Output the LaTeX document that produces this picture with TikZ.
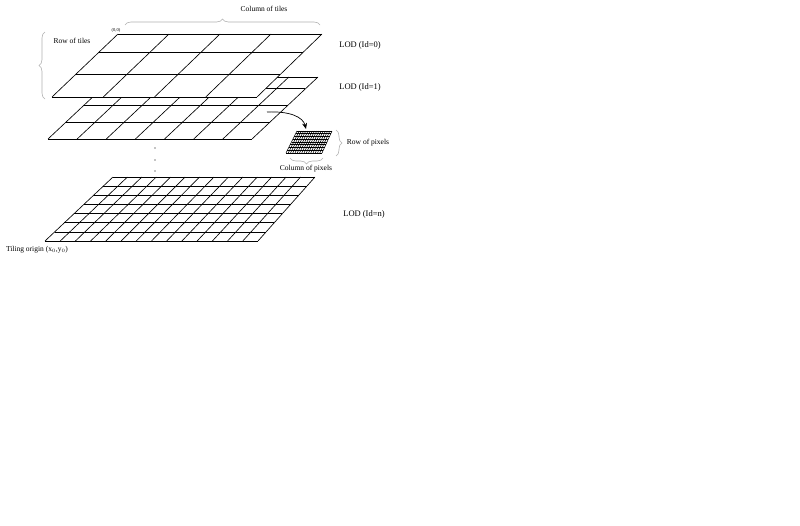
\documentclass[tikz,border=0pt]{standalone}
\usepackage{fontspec}
\setmainfont{Liberation Serif}
\usetikzlibrary{calc,arrows.meta,decorations.pathreplacing,positioning}
\tikzset{
  malla/.style={draw=black,line width=0.65pt},
  fina/.style={draw=black,line width=0.55pt},
  llave/.style={decorate,decoration={brace,amplitude=6pt},draw=gray!60,line width=0.6pt},
  etiq/.style={font=\fontsize{7.5}{8}\selectfont,inner sep=0pt},
  lod/.style={font=\fontsize{8.5}{9}\selectfont,inner sep=0pt},
  punto/.style={circle,fill=black,inner sep=0.45pt}
}
% capa: esquinas (sup-izq, sup-der, inf-der, inf-izq), columnas, filas, estilo
\newcommand{\capa}[7]{%
  \fill[white] (#1)--(#2)--(#3)--(#4)--cycle;
  \foreach \c in {0,...,#5}{\draw[#7] ($(#1)!{\c/#5}!(#2)$) -- ($(#4)!{\c/#5}!(#3)$);}
  \foreach \f in {#6}{\draw[#7] ($(#1)!\f!(#4)$) -- ($(#2)!\f!(#3)$);}
}

\begin{document}
\begin{tikzpicture}[x=1pt,y=-1pt]
\useasboundingbox[fill=white] (0,0) rectangle (800,525);

\coordinate (a0) at (118,34); \coordinate (b0) at (322,34);
\coordinate (c0) at (257,97); \coordinate (d0) at (52,97);
\coordinate (a1) at (114,77); \coordinate (b1) at (318,77);
\coordinate (c1) at (252,139); \coordinate (d1) at (48,139);
\coordinate (an) at (113,177); \coordinate (bn) at (315,177);
\coordinate (cn) at (258,241); \coordinate (dn) at (45,241);
\coordinate (ap) at (297,131); \coordinate (bp) at (332,131);
\coordinate (cp) at (322,153); \coordinate (dp) at (286,153);

\capa{an}{bn}{cn}{dn}{14}{0,0.143,0.286,0.429,0.571,0.714,0.857,1}{malla}
\capa{a1}{b1}{c1}{d1}{7}{0,0.19,0.45,0.73,1}{malla}
\capa{a0}{b0}{c0}{d0}{4}{0,0.29,0.64,1}{malla}
\capa{ap}{bp}{cp}{dp}{16}{0,0.125,...,1}{fina}

\node[punto] (p1) at (155,148) {};
\node[punto] (p2) at (155,160) {};
\node[punto] (p3) at (155,171) {};

\coordinate (ini) at (267,112);
\coordinate (fin) at (306,129);
\draw[-{Stealth[length=6pt,width=5pt]},line width=0.7pt] (ini) .. controls (290,111) and (303,117) .. (fin);

\draw[llave] (125,25) -- (320,25);
\draw[llave] (45,99) -- (45,32);
\draw[llave] (336,130) -- (336,156);
\draw[llave] (323,158) -- (290,158);

\node[etiq] (orig) at (116,30) {\fontsize{4.5}{5}\selectfont(0,0)};
\node[etiq] (coltiles) at (264,9) {Column of tiles};
\node[etiq] (rowtiles) at (72,41) {Row of tiles};
\node[lod] (lod0) at (360,45) {LOD (Id=0)};
\node[lod] (lod1) at (360,87) {LOD (Id=1)};
\node[lod] (lodn) at (364,214) {LOD (Id=n)};
\node[etiq] (rowpix) at (368,143) {Row of pixels};
\node[etiq] (colpix) at (306,169) {Column of pixels};
\node[etiq] (tiling) at (37,250) {Tiling origin (x$_0$,y$_0$)};
\end{tikzpicture}
\end{document}
